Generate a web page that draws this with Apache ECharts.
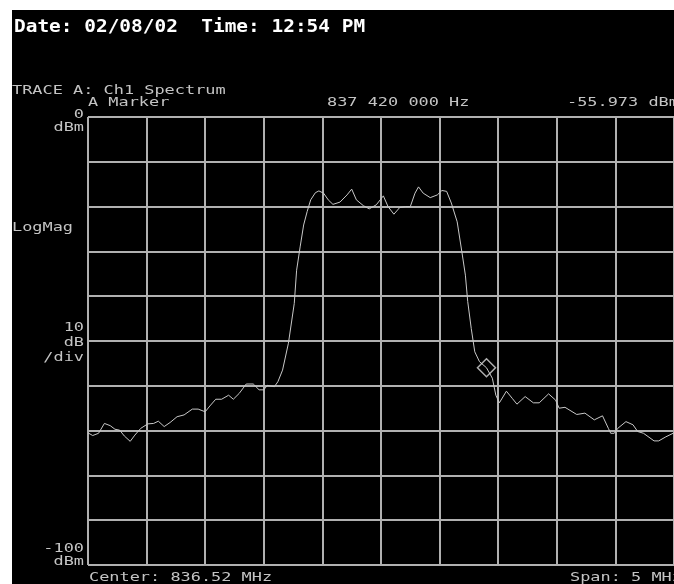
<!DOCTYPE html>
<html>
<head>
<meta charset="utf-8">
<script src="https://cdn.jsdelivr.net/npm/echarts@6/dist/echarts.min.js"></script>
<style>
  html, body { margin: 0; padding: 0; background: #fff; }
  #chart { width: 674px; height: 584px; }
</style>
</head>
<body>
<div id="chart"></div>
<script>
// ---- Data ----
const startMHz = 834.02;
const centerMHz = 836.52;
const spanMHz = 5;
const refLevelDbm = 0;
const bottomLevelDbm = -100;
const dbPerDiv = 10;

const freqMHz = [
  834.02, 834.06, 834.11, 834.16, 834.21, 834.25, 834.29, 834.33, 834.38, 834.42,
  834.47, 834.53, 834.58, 834.62, 834.67, 834.72, 834.78, 834.84, 834.91, 834.96,
  835.02, 835.06, 835.11, 835.16, 835.22, 835.26, 835.31, 835.37, 835.43, 835.48,
  835.52, 835.55, 835.61, 835.64, 835.68, 835.73, 835.78, 835.80, 835.83, 835.86,
  835.89, 835.92, 835.96, 835.99, 836.03, 836.07, 836.11, 836.17, 836.23, 836.27,
  836.31, 836.37, 836.42, 836.48, 836.54, 836.58, 836.63, 836.68, 836.73, 836.77,
  836.81, 836.84, 836.88, 836.94, 837.00, 837.04, 837.08, 837.12, 837.17, 837.21,
  837.24, 837.26, 837.29, 837.32, 837.36, 837.42, 837.47, 837.50, 837.53, 837.59,
  837.64, 837.68, 837.75, 837.82, 837.87, 837.95, 838.01, 838.04, 838.09, 838.19,
  838.26, 838.34, 838.41, 838.46, 838.48, 838.51, 838.54, 838.61, 838.67, 838.71,
  838.76, 838.85, 838.89, 838.95, 839.02
];
const levelDbm = [
  -70.5, -71.1, -70.6, -68.4, -68.9, -69.7, -69.9, -71.2, -72.4, -71.0,
  -69.5, -68.5, -68.4, -67.9, -69.1, -68.2, -66.9, -66.5, -65.2, -65.2,
  -65.8, -64.5, -63.0, -63.0, -62.1, -63.0, -61.7, -59.6, -59.6, -60.9,
  -60.9, -59.9, -60.2, -59.1, -56.5, -50.5, -41.6, -34.2, -29.0, -24.1,
  -21.1, -18.5, -16.9, -16.5, -17.0, -18.5, -19.5, -19.0, -17.4, -16.1,
  -18.5, -19.8, -20.5, -19.6, -17.6, -20.0, -21.7, -20.2, -20.0, -20.0,
  -17.0, -15.6, -17.0, -18.0, -17.4, -16.4, -16.6, -19.2, -23.4, -30.1,
  -35.3, -41.2, -47.2, -52.4, -54.6, -55.973, -58.3, -62.1, -63.8, -61.2,
  -62.8, -64.1, -62.4, -63.8, -63.8, -61.8, -63.2, -65.0, -64.8, -66.4,
  -66.1, -67.6, -66.7, -69.5, -70.6, -70.6, -69.5, -68.0, -68.7, -70.2,
  -70.6, -72.3, -72.3, -71.4, -70.5
];
const markerFreqMHz = 837.42;
const markerLevelDbm = -55.973;

const headerText = 'Date: 02/08/02  Time: 12:54 PM';
const traceText = 'TRACE A: Ch1 Spectrum';
const markerLabel = 'A Marker';
const markerFreqText = '837 420 000 Hz';
const markerLevelText = '-55.973 dBm';
const refLabels = ['0', 'dBm'];
const scaleTypeLabel = 'LogMag';
const scaleLabels = ['10', 'dB', '/div'];
const bottomLabels = ['-100', 'dBm'];
const centerText = 'Center: 836.52 MHz';
const spanText = 'Span: 5 MHz';

// ---- Chart ----
const chart = echarts.init(document.getElementById('chart'), null, { renderer: 'canvas' });

const seriesData = freqMHz.map((f, i) => [+(f - startMHz).toFixed(4), levelDbm[i]]);
const markerPoint = [+(markerFreqMHz - startMHz).toFixed(4), markerLevelDbm];

const MONO = '"DejaVu Sans Mono", "Liberation Mono", monospace';
const TXT = '#c4c4c4';
const SX = 1.3;

function smallText(str, x, y, align) {
  return {
    type: 'text', x: x, y: y, scaleX: SX, scaleY: 1, silent: true,
    style: { text: str, fill: TXT, font: '13px ' + MONO, align: align || 'left', verticalAlign: 'middle' }
  };
}

const elements = [
  { type: 'rect', z: -100, silent: true, shape: { x: 12, y: 10, width: 662, height: 574 }, style: { fill: '#000' } },
  { type: 'text', x: 14, y: 27, scaleX: 1.08, silent: true,
    style: { text: headerText, fill: '#fff', font: 'bold 18px ' + MONO, align: 'left', verticalAlign: 'middle' } },
  smallText(traceText, 12, 91),
  smallText(markerLabel, 88, 103),
  smallText(markerFreqText, 327, 103),
  smallText(markerLevelText, 567, 103),
  smallText(refLabels[0], 84, 115, 'right'),
  smallText(refLabels[1], 84, 128, 'right'),
  smallText(scaleTypeLabel, 12, 228),
  smallText(scaleLabels[0], 84, 328, 'right'),
  smallText(scaleLabels[1], 84, 343, 'right'),
  smallText(scaleLabels[2], 84, 358, 'right'),
  smallText(bottomLabels[0], 84, 549, 'right'),
  smallText(bottomLabels[1], 84, 562, 'right'),
  smallText(centerText, 89, 578),
  smallText(spanText, 570, 578)
];

const gridLine = { show: true, lineStyle: { color: '#b0b0b0', width: 2 } };

chart.setOption({
  animation: false,
  backgroundColor: '#fff',
  grid: { left: 88, top: 117, width: 594, height: 448, containLabel: false },
  xAxis: {
    type: 'value', min: 0, max: spanMHz, interval: spanMHz / 10,
    axisLine: { show: false }, axisTick: { show: false }, axisLabel: { show: false },
    splitLine: gridLine
  },
  yAxis: {
    type: 'value', min: bottomLevelDbm, max: refLevelDbm, interval: dbPerDiv,
    axisLine: { show: false }, axisTick: { show: false }, axisLabel: { show: false },
    splitLine: gridLine
  },
  graphic: { elements: elements },
  series: [
    {
      type: 'line', data: seriesData, showSymbol: false, symbol: 'none', smooth: false,
      lineStyle: { color: '#c8c8c8', width: 1 }, z: 3, silent: true
    },
    {
      type: 'scatter', data: [markerPoint], symbol: 'diamond', symbolSize: 18,
      itemStyle: { color: 'rgba(0,0,0,0)', borderColor: '#d8d8d8', borderWidth: 1.5 }, z: 4, silent: true
    }
  ]
});
</script>
</body>
</html>
